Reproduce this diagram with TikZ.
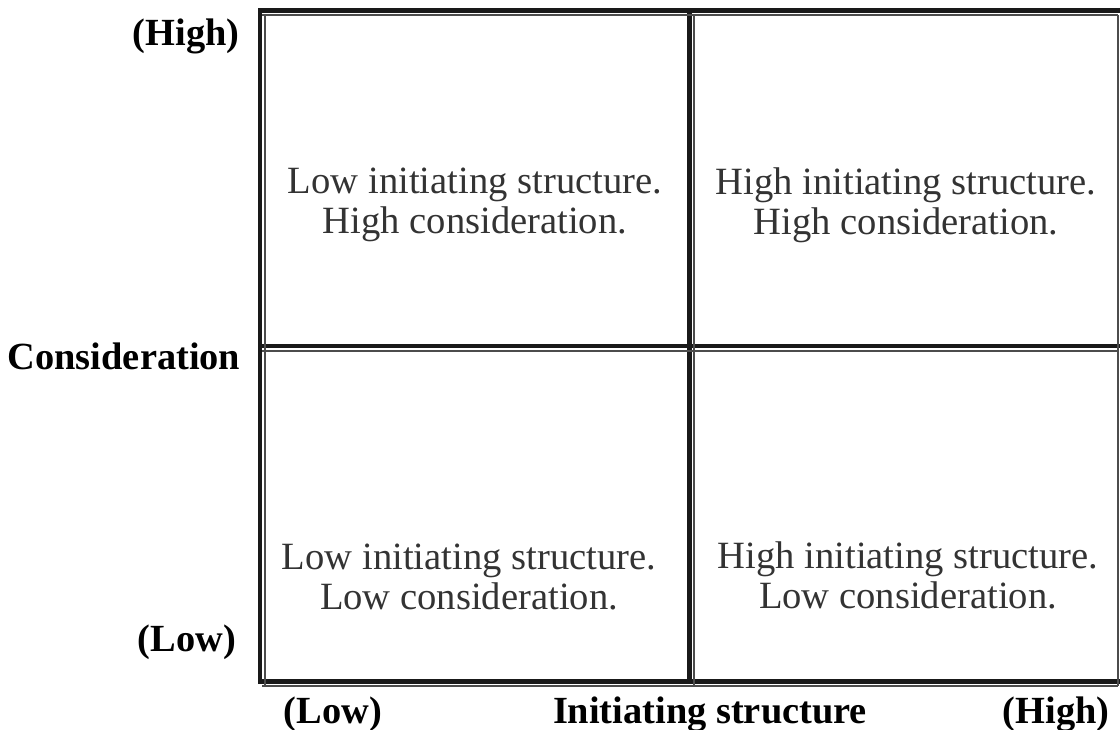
\documentclass[tikz,border=0pt]{standalone}
\usepackage{fontspec}
\setmainfont{Liberation Serif}
\usetikzlibrary{positioning}

\begin{document}
\begin{tikzpicture}[x=0.5pt,y=-0.5pt,
    cell/.style={align=center,text=black!80,inner sep=0pt,
                 font=\fontsize{19.3}{20}\selectfont},
    axislabel/.style={inner sep=0pt,font=\bfseries\fontsize{19.2}{20}\selectfont},
    heavy/.style={line width=2.3pt,black!90},
    light/.style={line width=0.7pt,black!70}]
\useasboundingbox (0,0) rectangle (1120,729);
\begin{scope}
\clip (0,0) rectangle (1120,729);
% heavy frame
\foreach \y in {10.5,346,681.5}
  \draw[heavy] (258,\y) -- (1125,\y);
\foreach \x in {260,689.5}
  \draw[heavy] (\x,8.2) -- (\x,683.8);
% light inner lines
\foreach \y in {15,351,686}
  \draw[light] (262,\y) -- (1118,\y);
\foreach \x in {265,694,1118}
  \draw[light] (\x,15) -- (\x,686);
\end{scope}

% quadrants
\node[cell] (lowhigh)  at (475,205) {Low initiating structure.\\High consideration.};
\node[cell] (highhigh) at (906,205) {High initiating structure.\\High consideration.};
\node[cell] (lowlow)   at (469,577) {Low initiating structure.\\Low consideration.};
\node[cell] (highlow)  at (908,575) {High initiating structure.\\Low consideration.};

% axis labels
\node[axislabel] (yhigh) at (186,36)  {(High)};
\node[axislabel] (ytitle) at (124,356) {Consideration};
\node[axislabel] (ylow)  at (187,642) {(Low)};
\node[axislabel] (xlow)  at (333,714) {(Low)};
\node[axislabel] (xtitle) at (710,714) {Initiating structure};
\node[axislabel] (xhigh) at (1056,714) {(High)};
\end{tikzpicture}
\end{document}
